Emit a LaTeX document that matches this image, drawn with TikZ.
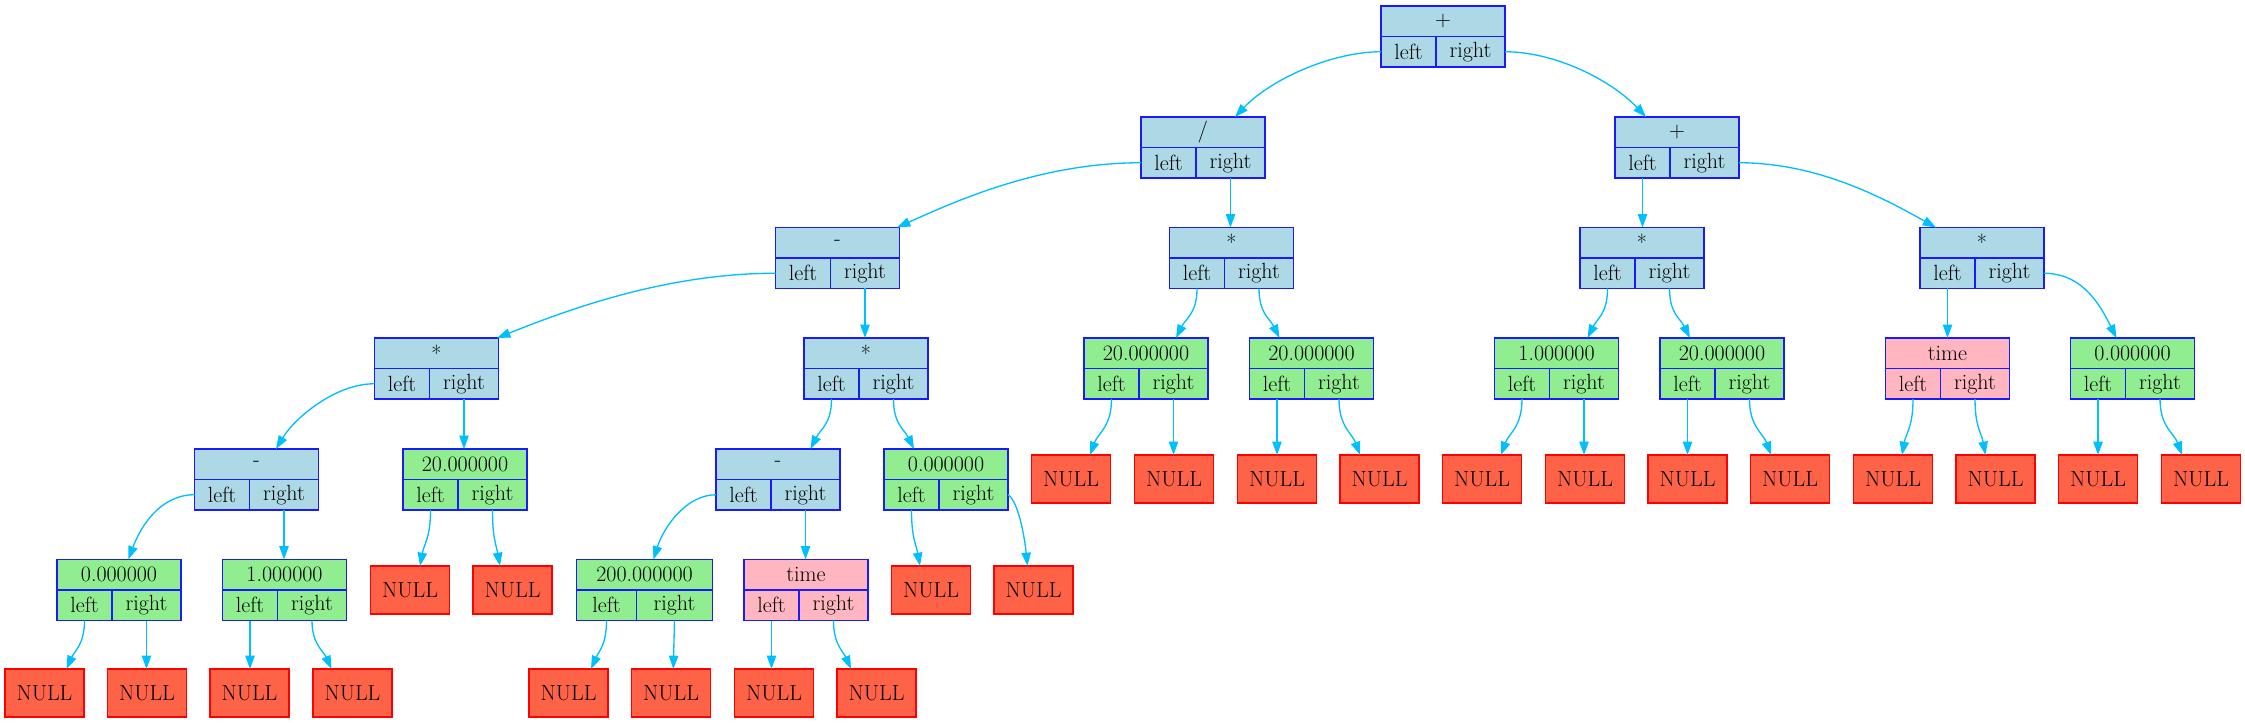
\documentclass[tikz,border=0pt]{standalone}
\usetikzlibrary{arrows.meta,calc}
\definecolor{cBlue}{HTML}{ADD8E6}
\definecolor{cGreen}{HTML}{90EE90}
\definecolor{cPink}{HTML}{FFB6C1}
\definecolor{cNull}{HTML}{FF6347}
\definecolor{cEdge}{HTML}{00BFFF}
\definecolor{cBorder}{HTML}{1A1AFF}
\tikzset{
  recpart/.style={draw=cBorder, line width=1pt, inner sep=0pt, outer sep=0pt, minimum height=30.5*0.75pt, font=\fontsize{16.5}{19}\selectfont},
  nul/.style={draw=red, fill=cNull, line width=1pt, inner sep=0pt, outer sep=0pt, minimum width=79*0.75pt, minimum height=48*0.75pt, font=\fontsize{16.5}{19}\selectfont},
  lnk/.style={draw=cEdge, line width=1pt, -{Triangle[length=10pt,width=7pt]}}
}
\newcommand\mkrec[7]{%
  \node[recpart, fill=#5, minimum width=#6*0.75pt, anchor=north west] (#1) at (#2,#3) {#4};
  \node[recpart, fill=#5, minimum width=#7*0.75pt, anchor=north west] (#1l) at (#1.south west) {left};
  \node[recpart, fill=#5, minimum width=(#6-#7)*0.75pt, anchor=north east] (#1r) at (#1.south east) {right};
}
\begin{document}
\begin{tikzpicture}[x=0.75pt,y=-0.75pt]
\useasboundingbox (0,0) rectangle (2245,723);
% records
\mkrec{A}{1381}{6}{+}{cBlue}{124}{55}
\mkrec{B}{1141}{117}{/}{cBlue}{124}{55}
\mkrec{C}{1615}{117}{+}{cBlue}{124}{55}
\mkrec{D}{775.5}{227.5}{-}{cBlue}{124}{55}
\mkrec{E}{1169.5}{227.5}{*}{cBlue}{124}{55}
\mkrec{F}{1580}{227.5}{*}{cBlue}{124}{55}
\mkrec{G}{1920}{227.5}{*}{cBlue}{124}{55}
\mkrec{H}{374.5}{338}{*}{cBlue}{124}{55}
\mkrec{I}{804}{338}{*}{cBlue}{124}{55}
\mkrec{J}{1084}{338}{20.000000}{cGreen}{124}{55}
\mkrec{K}{1249.5}{338}{20.000000}{cGreen}{124}{55}
\mkrec{L}{1494.5}{338}{1.000000}{cGreen}{124}{55}
\mkrec{M}{1660}{338}{20.000000}{cGreen}{124}{55}
\mkrec{N}{1885.5}{338}{time}{cPink}{124}{55}
\mkrec{O}{2070.5}{338}{0.000000}{cGreen}{124}{55}
\mkrec{P}{194.5}{449}{-}{cBlue}{124}{55}
\mkrec{Q}{403}{449}{20.000000}{cGreen}{124}{55}
\mkrec{S}{716}{449}{-}{cBlue}{124}{55}
\mkrec{T}{884}{449}{0.000000}{cGreen}{124}{55}
\mkrec{U}{57}{559.5}{0.000000}{cGreen}{124}{55}
\mkrec{V}{222.5}{559.5}{1.000000}{cGreen}{124}{55}
\mkrec{W}{576.5}{559.5}{200.000000}{cGreen}{136}{60}
\mkrec{X}{744}{559.5}{time}{cPink}{124}{55}
% NULL leaves
\node[nul] (z1) at (1071,479) {NULL};
\node[nul] (z2) at (1174,479) {NULL};
\node[nul] (z3) at (1277,479) {NULL};
\node[nul] (z4) at (1379.5,479) {NULL};
\node[nul] (z5) at (1482,479) {NULL};
\node[nul] (z6) at (1585,479) {NULL};
\node[nul] (z7) at (1687.5,479) {NULL};
\node[nul] (z8) at (1790,479) {NULL};
\node[nul] (z9) at (1893,479) {NULL};
\node[nul] (z10) at (1995.5,479) {NULL};
\node[nul] (z11) at (2098,479) {NULL};
\node[nul] (z12) at (2201,479) {NULL};
\node[nul] (z13) at (410,590) {NULL};
\node[nul] (z14) at (512.5,590) {NULL};
\node[nul] (z15) at (931,590) {NULL};
\node[nul] (z16) at (1033.5,590) {NULL};
\node[nul] (z17) at (44.5,693) {NULL};
\node[nul] (z18) at (147,693) {NULL};
\node[nul] (z19) at (249.5,693) {NULL};
\node[nul] (z20) at (352.5,693) {NULL};
\node[nul] (z21) at (568.5,693) {NULL};
\node[nul] (z22) at (671,693) {NULL};
\node[nul] (z23) at (774,693) {NULL};
\node[nul] (z24) at (876.5,693) {NULL};
% edges
\draw[lnk] (Al.west) .. controls +(-50,0) and +(35,-37) .. ($(B.north)+(32,0)$);
\draw[lnk] (Ar.east) .. controls +(50,0) and +(-35,-37) .. ($(C.north)+(-31,0)$);
\draw[lnk] (Br.south) -- (Br.south |- E.north);
\draw[lnk] (Bl.west) .. controls +(-100,0) and +(60,-27) .. ($(D.north)+(59.5,0)$);
\draw[lnk] (Cl.south) -- (Cl.south |- F.north);
\draw[lnk] (Cr.east) .. controls +(80,0) and +(-50,-28) .. ($(G.north)+(-46,0)$);
\draw[lnk] (Dl.west) .. controls +(-110,0) and +(70,-28) .. ($(H.north)+(60.5,0)$);
\draw[lnk] (Dr.south) -- (Dr.south |- I.north);
\draw[lnk] (El.south) .. controls +(0,25) and +(10,-20) .. ($(J.north)+(30,0)$);
\draw[lnk] (Er.south) .. controls +(0,25) and +(-10,-20) .. ($(K.north)+(-32,0)$);
\draw[lnk] (Fl.south) .. controls +(0,25) and +(10,-20) .. ($(L.north)+(31,0)$);
\draw[lnk] (Fr.south) .. controls +(0,25) and +(-10,-20) .. ($(M.north)+(-32,0)$);
\draw[lnk] (Gl.south) -- (Gl.south |- N.north);
\draw[lnk] (Gr.east) .. controls +(40,0) and +(-15,-30) .. ($(O.north)+(-16,0)$);
\draw[lnk] (Hl.west) .. controls +(-40,0) and +(18,-30) .. ($(P.north)+(19.5,0)$);
\draw[lnk] (Hr.south) -- (Hr.south |- Q.north);
\draw[lnk] (Il.south) .. controls +(0,25) and +(10,-20) .. ($(S.north)+(32.5,0)$);
\draw[lnk] (Ir.south) .. controls +(0,25) and +(-10,-20) .. ($(T.north)+(-32,0)$);
\draw[lnk] (Jl.south) .. controls +(0,28) and +(8,-22) .. ($(z1.north)+(19,0)$);
\draw[lnk] (Jr.south) -- (Jr.south |- z2.north);
\draw[lnk] (Kl.south) -- (Kl.south |- z3.north);
\draw[lnk] (Kr.south) .. controls +(0,28) and +(-8,-22) .. ($(z4.north)+(-19.5,0)$);
\draw[lnk] (Ll.south) .. controls +(0,28) and +(8,-22) .. ($(z5.north)+(19,0)$);
\draw[lnk] (Lr.south) -- (Lr.south |- z6.north);
\draw[lnk] (Ml.south) -- (Ml.south |- z7.north);
\draw[lnk] (Mr.south) .. controls +(0,28) and +(-8,-22) .. ($(z8.north)+(-19,0)$);
\draw[lnk] (Nl.south) .. controls +(0,28) and +(4,-22) .. ($(z9.north)+(9,0)$);
\draw[lnk] (Nr.south) .. controls +(0,28) and +(-4,-22) .. ($(z10.north)+(-10,0)$);
\draw[lnk] (Ol.south) -- (Ol.south |- z11.north);
\draw[lnk] (Or.south) .. controls +(0,28) and +(-8,-22) .. ($(z12.north)+(-19,0)$);
\draw[lnk] (Pl.west) .. controls +(-35,0) and +(12,-32) .. ($(U.north)+(9.3,0)$);
\draw[lnk] (Pr.south) -- (Pr.south |- V.north);
\draw[lnk] (Ql.south) .. controls +(0,28) and +(4,-22) .. ($(z13.north)+(10,0)$);
\draw[lnk] (Qr.south) .. controls +(0,28) and +(-4,-22) .. ($(z14.north)+(-12.5,0)$);
\draw[lnk] (Sl.west) .. controls +(-30,0) and +(10,-32) .. ($(W.north)+(9,0)$);
\draw[lnk] (Sr.south) -- (Sr.south |- X.north);
\draw[lnk] (Tl.south) .. controls +(0,28) and +(-4,-22) .. ($(z15.north)+(-11,0)$);
\draw[lnk] (Tr.east) .. controls +(10,6) and +(-3,-30) .. ($(z16.north)+(-6,0)$);
\draw[lnk] (Ul.south) .. controls +(0,24) and +(8,-18) .. ($(z17.north)+(22,0)$);
\draw[lnk] (Ur.south) -- (Ur.south |- z18.north);
\draw[lnk] (Vl.south) -- (Vl.south |- z19.north);
\draw[lnk] (Vr.south) .. controls +(0,24) and +(-8,-18) .. ($(z20.north)+(-21,0)$);
\draw[lnk] (Wl.south) .. controls +(0,24) and +(8,-18) .. ($(z21.north)+(22.5,0)$);
\draw[lnk] (Wr.south) -- ($(z22.north)+(2.3,0)$);
\draw[lnk] (Xl.south) -- (Xl.south |- z23.north);
\draw[lnk] (Xr.south) .. controls +(0,24) and +(-8,-18) .. ($(z24.north)+(-25.5,0)$);
\end{tikzpicture}
\end{document}
